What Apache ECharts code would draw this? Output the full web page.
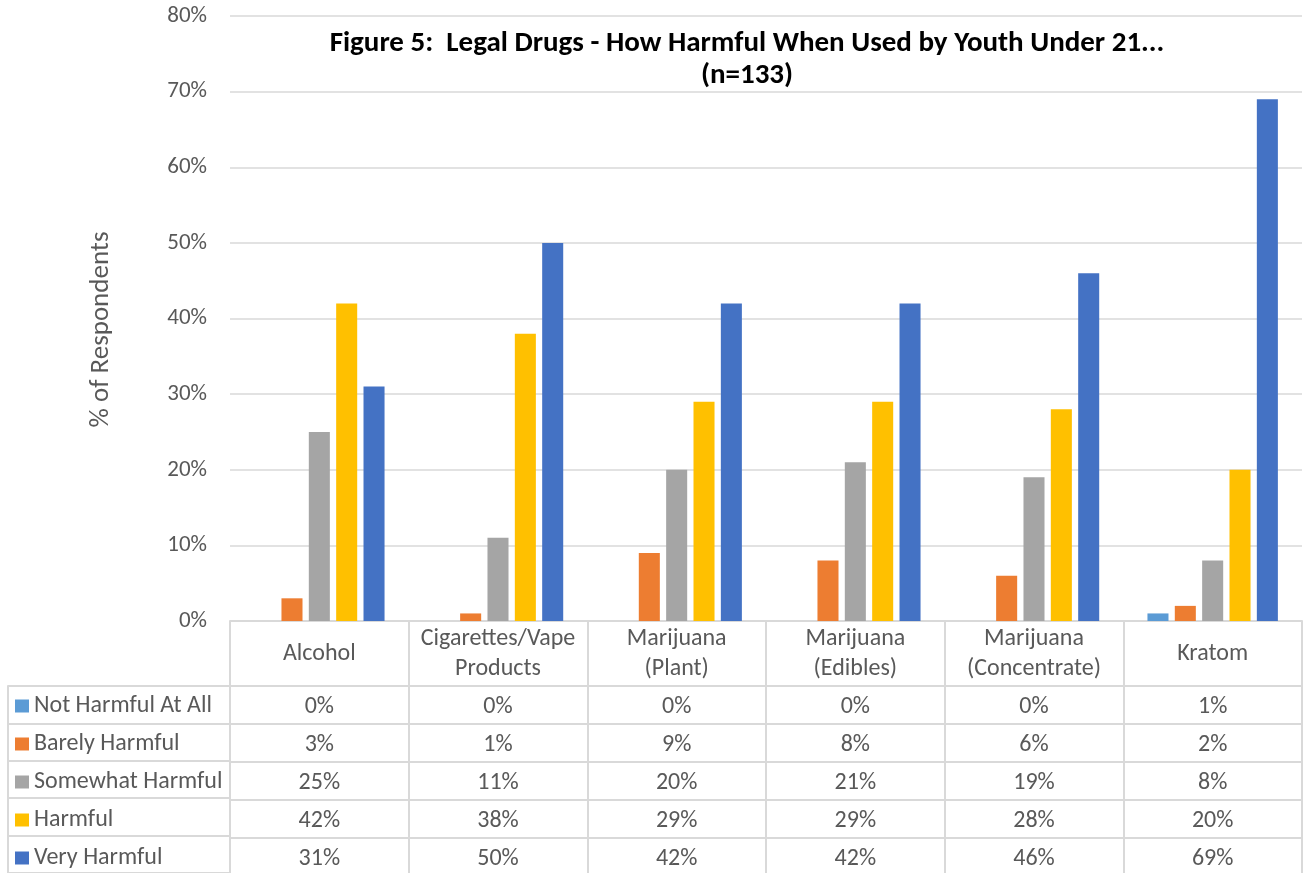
<!DOCTYPE html>
<html>
<head>
<meta charset="utf-8">
<script src="https://cdn.jsdelivr.net/npm/echarts@6/dist/echarts.min.js"></script>
<style>
  html, body { margin: 0; padding: 0; background: #ffffff; }
  #chart { width: 1303px; height: 873px; }
</style>
</head>
<body>
<div id="chart"></div>
<script>
const categories = ['Alcohol', 'Cigarettes/Vape\nProducts', 'Marijuana\n(Plant)', 'Marijuana\n(Edibles)', 'Marijuana\n(Concentrate)', 'Kratom'];
const seriesNames = ['Not Harmful At All', 'Barely Harmful', 'Somewhat Harmful', 'Harmful', 'Very Harmful'];
const notHarmful = [0, 0, 0, 0, 0, 1];
const barelyHarmful = [3, 1, 9, 8, 6, 2];
const somewhatHarmful = [25, 11, 20, 21, 19, 8];
const harmful = [42, 38, 29, 29, 28, 20];
const veryHarmful = [31, 50, 42, 42, 46, 69];
const colors = ['#5B9BD5', '#ED7D31', '#A5A5A5', '#FFC000', '#4472C4'];
const titleText = 'Figure 5:  Legal Drugs - How Harmful When Used by Youth Under 21...\n(n=133)';
const yAxisName = '% of Respondents';

const rows = [notHarmful, barelyHarmful, somewhatHarmful, harmful, veryHarmful];
const FONT = 'Carlito, Calibri, Lato, sans-serif';
const TXT = '#595959';
const BORDER = { color: '#D9D9D9', width: 2 };
const FS = 24;

const chart = echarts.init(document.getElementById('chart'));

const xAxes = [{
  type: 'category', gridIndex: 0, position: 'bottom', data: categories,
  axisLine: { show: true, lineStyle: BORDER },
  axisTick: { show: true, length: 252, lineStyle: BORDER },
  axisLabel: { interval: 0, margin: 33, verticalAlign: 'middle', lineHeight: 30,
               fontSize: FS, color: TXT, fontFamily: FONT }
}];
rows.forEach((vals, i) => {
  xAxes.push({
    type: 'category', gridIndex: 0, position: 'bottom', offset: 65 + 38 * i,
    data: vals.map(v => v + '%'),
    axisLine: { show: true, lineStyle: BORDER },
    axisTick: { show: false },
    axisLabel: { interval: 0, margin: 21, verticalAlign: 'middle',
                 fontSize: FS, color: TXT, fontFamily: FONT }
  });
});
xAxes.push({ type: 'value', gridIndex: 1, show: false });

chart.setOption({
  animation: false,
  color: colors,
  title: {
    text: titleText, left: 742, top: 23, textAlign: 'center',
    textStyle: { fontSize: 29, fontWeight: 'bold', color: '#000000', lineHeight: 32, fontFamily: FONT }
  },
  legend: {
    orient: 'vertical', left: 15, top: 694, padding: 0, itemWidth: 14, itemHeight: 13, itemGap: 14,
    icon: 'rect', data: seriesNames, selectedMode: false,
    textStyle: { fontSize: FS, lineHeight: 24, color: TXT, fontFamily: FONT }
  },
  grid: [
    { left: 230, right: 1, top: 16, bottom: 252 },
    { left: 8, width: 222, top: 686, height: 190 }
  ],
  xAxis: xAxes,
  yAxis: [{
    type: 'value', gridIndex: 0, min: 0, max: 80, interval: 10,
    name: yAxisName, nameLocation: 'middle', nameGap: 115,
    nameTextStyle: { fontSize: 27, color: TXT, fontFamily: FONT, padding: [0, 22, 0, 0] },
    axisLine: { show: false }, axisTick: { show: false },
    axisLabel: { formatter: '{value}%', fontSize: 23, color: TXT, margin: 23, fontFamily: FONT },
    splitLine: { lineStyle: { color: '#D9D9D9', width: 1.5 } }
  }, {
    type: 'category', gridIndex: 1, inverse: true, data: seriesNames,
    axisLabel: { show: false }, axisTick: { show: false },
    axisLine: { show: true, lineStyle: BORDER },
    splitLine: { show: true, lineStyle: BORDER }
  }],
  series: seriesNames.map((name, i) => ({
    name: name, type: 'bar', xAxisIndex: 0, yAxisIndex: 0,
    data: rows[i], barGap: '30%', barCategoryGap: '27%',
    itemStyle: { color: colors[i] }
  }))
});
</script>
</body>
</html>
